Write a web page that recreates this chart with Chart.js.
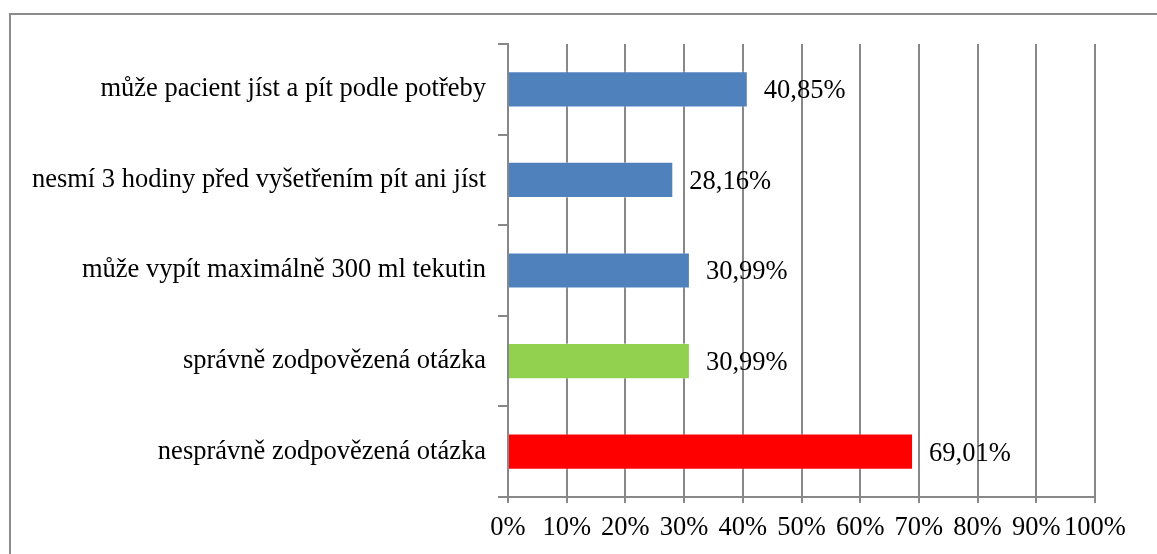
<!DOCTYPE html>
<html>
<head>
<meta charset="utf-8">
<script src="https://cdn.jsdelivr.net/npm/chart.js@4.4.0/dist/chart.umd.min.js"></script>
<style>
    html, body { margin: 0; padding: 0; background: #fff; overflow: hidden; }
    .frame { position: absolute; left: 9px; top: 13px; width: 1300px; height: 700px; border: 2px solid #8c8c8c; }
    .wrap { position: absolute; left: 0; top: 0; width: 1157px; height: 554px; }
</style>
</head>
<body>
<div class="frame"></div>
<div class="wrap"><canvas id="graf" width="1157" height="554"></canvas></div>
<script>
// data
const kategorie = [
    'může pacient jíst a pít podle potřeby',
    'nesmí 3 hodiny před vyšetřením pít ani jíst',
    'může vypít maximálně 300 ml tekutin',
    'správně zodpovězená otázka',
    'nesprávně zodpovězená otázka'
];
const hodnoty = [40.85, 28.16, 30.99, 30.99, 69.01];
const popisky = ['40,85%', '28,16%', '30,99%', '30,99%', '69,01%'];
const barvy = ['#4f81bd', '#4f81bd', '#4f81bd', '#92d050', '#ff0000'];
const osaX = [0, 10, 20, 30, 40, 50, 60, 70, 80, 90, 100];

const pismo = 'Liberation Serif';
const seda = '#888888';

// popisky hodnot vedle sloupcu
const hodnotyPlugin = {
    id: 'hodnotyPlugin',
    afterDatasetsDraw(chart) {
        const ctx = chart.ctx;
        const meta = chart.getDatasetMeta(0);
        ctx.save();
        ctx.font = '26.5px "' + pismo + '"';
        ctx.fillStyle = '#000';
        ctx.textAlign = 'left';
        ctx.textBaseline = 'middle';
        meta.data.forEach((bar, i) => {
            ctx.fillText(popisky[i], bar.x + 16, bar.y + 2);
        });
        ctx.restore();
    }
};

new Chart(document.getElementById('graf'), {
    type: 'bar',
    data: {
        labels: kategorie,
        datasets: [{
            data: hodnoty,
            backgroundColor: barvy,
            borderColor: 'rgba(255,255,255,0.35)',
            borderWidth: 1,
            categoryPercentage: 1,
            barPercentage: 0.4
        }]
    },
    options: {
        indexAxis: 'y',
        responsive: false,
        animation: false,
        devicePixelRatio: 1,
        layout: { padding: { top: 44, right: 62, left: 0, bottom: 0 } },
        plugins: {
            legend: { display: false },
            tooltip: { enabled: false }
        },
        scales: {
            x: {
                min: 0,
                max: 100,
                afterFit: function (scale) { scale.height = 57; },
                afterBuildTicks: function (scale) { scale.ticks = osaX.map(v => ({ value: v })); },
                grid: { color: seda, lineWidth: 2, tickLength: 6 },
                border: { color: seda, width: 2 },
                ticks: {
                    color: '#000',
                    font: { family: pismo, size: 26.5 },
                    padding: 9,
                    maxRotation: 0,
                    autoSkip: false,
                    callback: v => v + '%'
                }
            },
            y: {
                afterFit: function (scale) { scale.width = 508; },
                grid: { offset: true, drawOnChartArea: false, color: seda, lineWidth: 2, tickLength: 10 },
                border: { color: seda, width: 2 },
                ticks: {
                    color: '#000',
                    font: { family: pismo, size: 26.5 },
                    padding: 12
                }
            }
        }
    },
    plugins: [hodnotyPlugin]
});
</script>
</body>
</html>
